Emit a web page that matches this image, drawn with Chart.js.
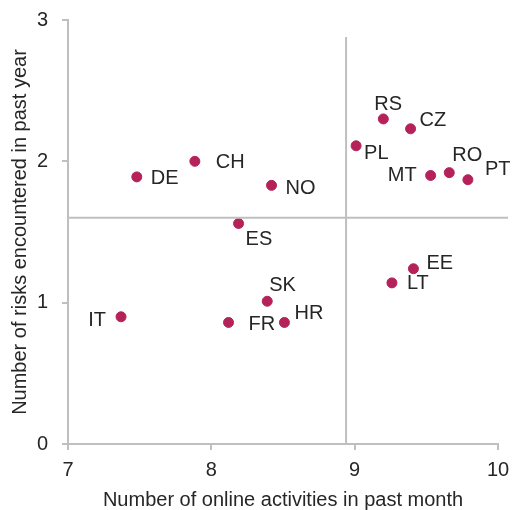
<!DOCTYPE html>
<html>
<head>
<meta charset="utf-8">
<script src="https://cdn.jsdelivr.net/npm/chart.js@4.4.1/dist/chart.umd.min.js"></script>
<style>
  html, body { margin: 0; padding: 0; background: #fff; }
  #wrap { width: 512px; height: 510px; }
</style>
</head>
<body>
<div id="wrap"><canvas id="chart" width="512" height="510"></canvas></div>
<script>
// data
const countries  = ["IT", "DE", "CH", "NO", "ES", "SK", "FR", "HR", "LT", "EE", "RS", "CZ", "PL", "MT", "RO", "PT"];
const activities = [7.37, 7.48, 7.885, 8.42, 8.19, 8.39, 8.12, 8.51, 9.26, 9.41, 9.20, 9.39, 9.01, 9.53, 9.66, 9.79];
const risks      = [0.90, 1.89, 2.00, 1.83, 1.56, 1.01, 0.86, 0.86, 1.14, 1.24, 2.30, 2.23, 2.11, 1.90, 1.92, 1.87];
// averages drawn as the two grey cross lines
const avgActivities = 8.94;
const avgRisks = 1.60;
const vLineTop = 2.88;
const hLineEnd = 10.07;
const xTicks = [7, 8, 9, 10];
const yTicks = [0, 1, 2, 3];

const dotColor = "#B5225A";
const axisGrey = "#BFBFBF";
const textColor = "#262626";
const fontFamily = "'Liberation Sans', Arial, sans-serif";

// where each label sits relative to its dot: [dx, dy, align]
const labelPos = {
  IT: [-15, 4, "right"], DE: [14, 2, "left"], CH: [21, 1, "left"], NO: [14, 3, "left"],
  ES: [7, 16, "left"], SK: [2, -16, "left"], FR: [20, 2, "left"], HR: [10, -9, "left"],
  LT: [15, 1, "left"], EE: [13, -5, "left"], RS: [-9, -14, "left"], CZ: [9, -8, "left"],
  PL: [8, 8, "left"], MT: [-14, 0, "right"], RO: [3, -17, "left"], PT: [17, -10, "left"]
};

const pointLabels = {
  id: "pointLabels",
  afterDatasetsDraw(chart) {
    const ctx = chart.ctx;
    const meta = chart.getDatasetMeta(2);
    ctx.save();
    ctx.font = "20px " + fontFamily;
    ctx.fillStyle = textColor;
    ctx.textBaseline = "middle";
    meta.data.forEach((el, i) => {
      const p = labelPos[countries[i]] || [10, 0, "left"];
      ctx.textAlign = p[2];
      ctx.fillText(countries[i], el.x + p[0], el.y + p[1]);
    });
    ctx.restore();
  }
};

new Chart(document.getElementById("chart"), {
  type: "scatter",
  data: {
    datasets: [
      {
        type: "line",
        data: [{ x: avgActivities, y: 0 }, { x: avgActivities, y: vLineTop }],
        borderColor: axisGrey, borderWidth: 2, pointRadius: 0
      },
      {
        type: "line",
        data: [{ x: xTicks[0], y: avgRisks }, { x: hLineEnd, y: avgRisks }],
        borderColor: axisGrey, borderWidth: 2, pointRadius: 0, clip: false
      },
      {
        data: activities.map((a, i) => ({ x: a, y: risks[i] })),
        backgroundColor: dotColor, borderColor: dotColor,
        pointRadius: 5, pointHoverRadius: 5
      }
    ]
  },
  options: {
    responsive: false,
    animation: false,
    layout: { padding: { top: 20, right: 14, left: 0, bottom: 0 } },
    plugins: { legend: { display: false }, tooltip: { enabled: false } },
    scales: {
      x: {
        type: "linear", min: 7, max: 10,
        afterBuildTicks: s => { s.ticks = xTicks.map(v => ({ value: v })); },
        afterFit: s => { s.height = 66; s.paddingLeft = 0; s.paddingRight = 0; },
        border: { color: axisGrey, width: 2 },
        grid: { drawOnChartArea: false, color: axisGrey, lineWidth: 2, tickLength: 6 },
        ticks: { color: textColor, font: { family: fontFamily, size: 20 }, padding: 8 },
        title: {
          display: true, text: "Number of online activities in past month",
          color: textColor, font: { family: fontFamily, size: 20, lineHeight: 1 }, padding: { top: 4, bottom: 0 }
        }
      },
      y: {
        type: "linear", min: 0, max: 3,
        afterBuildTicks: s => { s.ticks = yTicks.map(v => ({ value: v })); },
        afterFit: s => { s.width = 68; s.paddingTop = 0; s.paddingBottom = 0; },
        border: { color: axisGrey, width: 2 },
        grid: { drawOnChartArea: false, color: axisGrey, lineWidth: 2, tickLength: 6 },
        ticks: { color: textColor, font: { family: fontFamily, size: 20 }, padding: 14 },
        title: {
          display: true, text: "Number of risks encountered in past year",
          color: textColor, font: { family: fontFamily, size: 20, lineHeight: 1 }, padding: { top: 10, bottom: 0 }
        }
      }
    }
  },
  plugins: [pointLabels]
});
</script>
</body>
</html>
